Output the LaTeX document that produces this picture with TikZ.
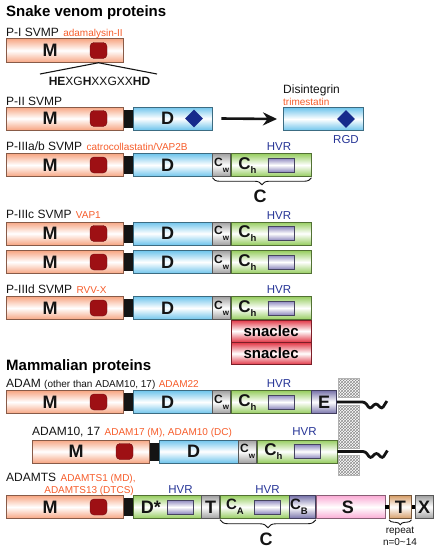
\documentclass[tikz,border=0pt]{standalone}
\usepackage{fontspec}
\setmainfont{Liberation Sans}
\usepackage{xcolor}
\usepackage{tikz}
\usetikzlibrary{arrows.meta,calc,positioning,shapes.geometric,patterns,decorations.pathreplacing}
\definecolor{ink}{RGB}{20,20,20}
\definecolor{orng}{RGB}{246,92,42}
\definecolor{hvrtxt}{RGB}{38,52,150}
\definecolor{mfill}{RGB}{247,165,130}
\definecolor{dfill}{RGB}{110,196,236}
\definecolor{cwfill}{RGB}{160,160,160}
\definecolor{chfill}{RGB}{150,205,95}
\definecolor{hvrfill}{RGB}{140,135,190}
\definecolor{efill}{RGB}{120,115,170}
\definecolor{snafill}{RGB}{226,55,70}
\definecolor{sfill}{RGB}{250,170,212}
\definecolor{tfill}{RGB}{214,158,105}
\definecolor{zinc}{RGB}{158,16,20}
\definecolor{rgd}{RGB}{22,42,140}
\newcommand{\dsub}[2]{\raisebox{-#2}{\fontsize{9.5}{10}\selectfont #1}}
\newcommand{\dsubw}[1]{\raisebox{-6pt}{\fontsize{8}{9}\selectfont #1}}
\tikzset{
  dom/.style={
    draw=#1!55!black, line width=0.5pt,
    top color=#1, bottom color=#1, middle color=white,
    minimum height=23pt, inner sep=0pt, anchor=west,
  },
  dom/.default=mfill,
  hvrbox/.style={
    draw=hvrfill!50!black, line width=0.5pt,
    top color=hvrfill, bottom color=hvrfill, middle color=white,
    minimum width=26pt, minimum height=14pt, inner sep=0pt,
  },
  linker/.style={fill=ink, minimum width=9pt, minimum height=18pt, inner sep=0pt, anchor=west},
  zn/.style={fill=zinc, draw=zinc!70!black, rounded corners=4pt,
    minimum width=17pt, minimum height=16pt, inner sep=0pt},
  site/.style={diamond, fill=rgd, minimum width=18pt, minimum height=18pt, inner sep=0pt},
  ttl/.style={anchor=base west, font=\fontsize{15}{18}\selectfont\bfseries, inner sep=0pt},
  prot/.style={anchor=base west, font=\fontsize{12}{14}\selectfont, inner sep=0pt, text=ink},
  ex/.style={anchor=base west, font=\fontsize{10}{12}\selectfont, text=orng, inner sep=0pt},
  hvr/.style={anchor=base, font=\fontsize{11.5}{13}\selectfont, text=hvrtxt, inner sep=0pt},
  big/.style={font=\fontsize{18}{18}\selectfont\bfseries, inner sep=0pt, text=ink},
  memb/.style={pattern=crosshatch, pattern color=black!45, draw=black!30, line width=0.4pt,
    minimum width=21pt, inner sep=0pt, anchor=north west},
  brc/.style={decorate, decoration={brace, mirror, amplitude=7pt}, line width=0.9pt, draw=ink},
  bigarr/.style={-{Stealth[length=14pt, width=13pt]}, line width=2.6pt, draw=ink},
  tether/.style={line width=2.8pt, draw=ink, rounded corners=2.5pt},
  motif/.style={line width=1.1pt, draw=ink},
}

\begin{document}
\begin{tikzpicture}[x=1pt,y=-1pt]
  \useasboundingbox (0,0) rectangle (438,550);

  \node[ttl] (snk) at (6,16) {Snake venom proteins};

  % P-I
  \node[prot] (p1-lbl) at (6,36) {P-I SVMP};
  \node[ex] (p1-ex) at ([xshift=4pt]p1-lbl.base east) {adamalysin-II};
  \node[dom=mfill, minimum width=117pt, minimum height=24pt] (m-p1) at (6,50.5) {};
  \node[big] (ml-p1) at (50,50.5) {M};
  \node[zn] (zn-p1) at (98.5,50.5) {};
  \coordinate (mot-l) at (40,74);
  \coordinate (mot-r) at (157,74);
  \draw[motif] (mot-l) -- (zn-p1 |- m-p1.south) -- (mot-r);
  \node[prot, anchor=base] (mot) at (99.5,85) {\textbf{HE}XG\textbf{H}XXGXX\textbf{HD}};

  % M + linker in every row, D where it is a plain disintegrin-like domain
  \foreach \r/\y/\dx in {p2/118.5/0, p3ab/165/0, p3c/233.5/0, p3cc/262/0, p3d/308/0,
                         adam/402/0, adamx/451.5/26, ts/507/0} {
    \node[dom=mfill, minimum width=117pt] (m-\r) at (6+\dx,\y) {};
    \node[big] (ml-\r) at (50+\dx,\y) {M};
    \node[zn] (zn-\r) at (98.5+\dx,\y) {};
    \node[linker] (lk-\r) at (m-\r.east) {};
  }
  \foreach \r in {p2, p3ab, p3c, p3cc, p3d, adam, adamx} {
    \node[dom=dfill, minimum width=79pt] (d-\r) at (lk-\r.east) {};
    \node[big] (dl-\r) at ([xshift=-5pt]d-\r.center) {D};
  }
  \foreach \r in {p3ab, p3c, p3cc, p3d, adam, adamx} {
    \node[dom=cwfill, minimum width=18pt] (cw-\r) at (d-\r.east) {};
    \node[dom=chfill, minimum width=80pt] (ch-\r) at (cw-\r.east) {};
    \node[big, anchor=base, font=\fontsize{12}{12}\selectfont\bfseries] (cwl-\r)
      at ([yshift=-1pt]cw-\r.center) {C\dsubw{w}};
    \node[big, anchor=base, font=\fontsize{17}{17}\selectfont\bfseries] (chl-\r)
      at ([xshift=16.5pt, yshift=-4pt]ch-\r.west) {C\dsub{h}{4pt}};
    \node[hvrbox] (hv-\r) at ([xshift=50pt]ch-\r.west) {};
  }

  % P-II and the released disintegrin
  \node[prot] (p2-lbl) at (6,105) {P-II SVMP};
  \node[site] (rgd-p2) at (194,118.5) {};
  \node[dom=dfill, minimum width=80pt] (dis) at (283,119) {};
  \node[site] (rgd-dis) at (346,119) {};
  \node[prot] (dis-lbl) at (283,93) {Disintegrin};
  \node[ex] (dis-ex) at (283,105) {trimestatin};
  \node[hvr] (rgd-lbl) at (346,143) {RGD};
  \draw[bigarr] ([xshift=9pt]d-p2.east) -- ([xshift=-6pt]dis.west);

  % P-III
  \node[prot] (p3ab-lbl) at (6,150.5) {P-IIIa/b SVMP};
  \node[ex] (p3ab-ex) at ([xshift=4pt]p3ab-lbl.base east) {catrocollastatin/VAP2B};
  \node[hvr] (hl-p3ab) at (279,150) {HVR};
  \draw[brc] ([yshift=-1pt]cw-p3ab.south west) -- ([yshift=-1pt]ch-p3ab.south east);
  \node[big, anchor=base] (c-p3ab) at (260,202) {C};

  \node[prot] (p3c-lbl) at (6,218.5) {P-IIIc SVMP};
  \node[ex] (p3c-ex) at ([xshift=4pt]p3c-lbl.base east) {VAP1};
  \node[hvr] (hl-p3c) at (279,219) {HVR};

  \node[prot] (p3d-lbl) at (6,293) {P-IIId SVMP};
  \node[ex] (p3d-ex) at ([xshift=4pt]p3d-lbl.base east) {RVV-X};
  \node[hvr] (hl-p3d) at (279,293) {HVR};
  \node[dom=snafill, minimum width=80pt, minimum height=22pt, anchor=north west,
        font=\fontsize{15}{15}\selectfont\bfseries] (sn1) at (ch-p3d.south west) {snaclec};
  \node[dom=snafill, minimum width=80pt, minimum height=22pt, anchor=north west,
        font=\fontsize{15}{15}\selectfont\bfseries] (sn2) at (sn1.south west) {snaclec};

  \node[ttl] (mam) at (6,370) {Mammalian proteins};

  % membrane
  \node[memb, minimum height=19pt] (mb1) at (338,378) {};
  \node[memb, minimum height=43pt] (mb2) at (338,405) {};
  \node[memb, minimum height=20pt] (mb3) at (338,455) {};

  % ADAM
  \node[prot] (adam-lbl) at (6,387.5) {ADAM {\fontsize{10}{12}\selectfont(other than ADAM10, 17)}};
  \node[ex] (adam-ex) at ([xshift=3pt]adam-lbl.base east) {ADAM22};
  \node[hvr] (hl-adam) at (279,387.5) {HVR};
  \node[dom=efill, minimum width=25pt] (e-adam) at (ch-adam.east) {};
  \node[big] (el-adam) at (e-adam) {E};
  \draw[tether] (e-adam.east) -- ++(28,0) -- ++(5,7) -- ++(6,-6) -- ++(6,6) -- ++(5,-8);

  % ADAM10, 17
  \node[prot] (adamx-lbl) at (32,435) {ADAM10, 17};
  \node[ex] (adamx-ex) at ([xshift=4pt]adamx-lbl.base east) {ADAM17 (M), ADAM10 (DC)};
  \node[hvr] (hl-adamx) at (304.5,435) {HVR};
  \draw[tether] (ch-adamx.east) -- ++(28,0) -- ++(5,7) -- ++(6,-6) -- ++(6,6) -- ++(5,-8);

  % ADAMTS
  \node[prot] (ts-lbl) at (6,481) {ADAMTS};
  \node[ex] (ts-ex) at ([xshift=4pt]ts-lbl.base east) {ADAMTS1 (MD),};
  \node[ex, anchor=base east] (ts-ex2) at (134,493.5) {ADAMTS13 (DTCS)};
  \node[dom=chfill, minimum width=68pt] (ds-ts) at (lk-ts.east) {};
  \node[big] (dsl-ts) at (151,507) {D*};
  \node[hvrbox] (hv1-ts) at (180.5,507) {};
  \node[hvr] (hl1-ts) at (180.5,493.5) {HVR};
  \node[dom=cwfill, minimum width=18pt] (t1-ts) at (ds-ts.east) {};
  \node[big] (t1l-ts) at (t1-ts) {T};
  \node[dom=chfill, minimum width=69pt] (ca-ts) at (t1-ts.east) {};
  \node[big, anchor=base, font=\fontsize{15}{15}\selectfont\bfseries] (cal-ts) at (235,509) {C\dsub{A}{5pt}};
  \node[hvrbox] (hv2-ts) at (267.5,507) {};
  \node[hvr] (hl2-ts) at (267.5,493.5) {HVR};
  \node[dom=efill, minimum width=26pt] (cb-ts) at (ca-ts.east) {};
  \node[big, anchor=base, font=\fontsize{15}{15}\selectfont\bfseries] (cbl-ts) at (299,509) {C\dsub{B}{5pt}};
  \node[dom=sfill, minimum width=69pt] (s-ts) at (cb-ts.east) {};
  \node[big] (sl-ts) at (348,507) {S};
  \node[dom=tfill, minimum width=22pt] (t2-ts) at (389,507) {};
  \node[big] (t2l-ts) at (t2-ts) {T};
  \node[dom=cwfill, minimum width=18pt] (x-ts) at (415,507) {};
  \node[big] (xl-ts) at (x-ts) {X};
  \draw[line width=4pt] (s-ts.east) -- (t2-ts.west);
  \draw[line width=4pt] (t2-ts.east) -- (x-ts.west);
  \draw[brc, decoration={amplitude=8pt}] ([yshift=-1pt]ca-ts.south west) -- ([yshift=-1pt]cb-ts.south east);
  \node[big, anchor=base] (c-ts) at (266,545) {C};
  \draw[brc, decoration={amplitude=5pt}] ([yshift=-1pt]t2-ts.south west) -- ([yshift=-1pt]t2-ts.south east);
  \node[prot, anchor=base, font=\fontsize{10}{12}\selectfont] (rep) at (400,533) {repeat};
  \node[prot, anchor=base, font=\fontsize{10}{12}\selectfont] (rep-n) at (400,545) {n=0\textasciitilde14};
\end{tikzpicture}
\end{document}
